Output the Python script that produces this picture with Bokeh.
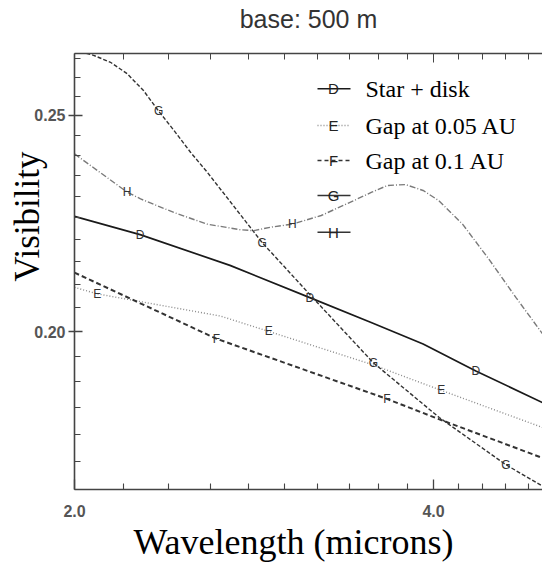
from bokeh.plotting import figure
from bokeh.models import (FixedTicker, PrintfTickFormatter, LogAxis, Title, Label,
                          Arrow, Range1d)
from bokeh.core.properties import value
from bokeh.embed import file_html
from bokeh.resources import INLINE

# ---------------- data ----------------
D_x = [2.00, 2.27, 2.70, 3.15, 3.55, 3.92, 4.34, 4.94]
D_y = [0.2253, 0.2211, 0.2142, 0.2072, 0.2019, 0.1975, 0.1921, 0.1859]

E_x = [2.00, 2.09, 2.65, 2.91, 3.56, 4.06, 4.94]
E_y = [0.2094, 0.2080, 0.2033, 0.2001, 0.1933, 0.1883, 0.1812]

F_x = [2.00, 2.63, 3.66, 4.04, 4.94]
F_y = [0.2126, 0.1986, 0.1866, 0.1828, 0.1756]

G_x = [2.00, 2.043, 2.075, 2.144, 2.214, 2.285, 2.353, 2.423, 2.502, 2.584,
       2.873, 3.154, 3.562, 4.044, 4.599, 4.936]
G_y = [0.2672, 0.2666, 0.2660, 0.2641, 0.2610, 0.2565, 0.2511, 0.2462, 0.2407,
       0.2358, 0.2193, 0.2077, 0.1937, 0.1831, 0.1744, 0.1706]

H_x = [2.00, 2.214, 2.272, 2.423, 2.584, 2.756, 2.827, 2.920, 3.045, 3.22, 3.43,
       3.55, 3.66, 3.79, 3.92, 4.04, 4.23, 4.45, 4.69, 4.94]
H_y = [0.2403, 0.2310, 0.2294, 0.2262, 0.2235, 0.2222, 0.2220, 0.2228, 0.2235,
       0.2255, 0.2290, 0.2310, 0.2326, 0.2328, 0.2314, 0.2290, 0.2235, 0.2156,
       0.2072, 0.1995]

# letter symbols placed on the curves
D_mx = [2.27, 3.15, 4.34]
D_my = [0.2211, 0.2072, 0.1921]
E_mx = [2.09, 2.91, 4.06]
E_my = [0.2080, 0.2001, 0.1883]
F_mx = [2.63, 3.655]
F_my = [0.1986, 0.1866]
G_mx = [2.353, 2.873, 3.562, 4.599]
G_my = [0.2511, 0.2193, 0.1937, 0.1744]
H_mx = [2.214, 3.045]
H_my = [0.2310, 0.2235]

X_MAJOR = [2.0, 4.0]
X_MINOR = [2.2, 2.4, 2.6, 2.8, 3.0, 3.2, 3.4, 3.6, 3.8, 4.2, 4.4, 4.6, 4.8]
Y_MAJOR = [0.20, 0.25]
Y_MINOR = [0.170, 0.175, 0.180, 0.185, 0.190, 0.195, 0.205, 0.210, 0.215,
           0.220, 0.225, 0.230, 0.235, 0.240, 0.245, 0.255, 0.260, 0.265]

LEG_LETTERS = ["D", "E", "F", "G", "H"]
LEG_LABELS = ["Star + disk", "Gap at 0.05 AU", "Gap at 0.1 AU", "", ""]

# ---------------- figure ----------------
p = figure(width=542, height=564, x_axis_type="log", y_axis_type="log",
           x_range=Range1d(2.0, 4.936), y_range=Range1d(0.1700, 0.2665),
           output_backend="svg", toolbar_location=None,
           min_border_left=74, min_border_right=0, min_border_top=53,
           min_border_bottom=75)
p.outline_line_color = None
p.grid.grid_line_color = None
p.background_fill_color = "white"
p.border_fill_color = "white"

p.title.text = "base: 500 m"
p.title.align = "center"
p.title.text_font = "Liberation Sans"
p.title.text_font_size = "25px"
p.title.text_font_style = "normal"
p.title.text_color = "#333333"
p.title.standoff = 2

xt = FixedTicker(ticks=X_MAJOR, minor_ticks=X_MINOR)
yt = FixedTicker(ticks=Y_MAJOR, minor_ticks=Y_MINOR)

ax_col = "#444444"
for ax in (p.xaxis[0], p.yaxis[0]):
    ax.axis_line_color = ax_col
    ax.axis_line_width = 1.6
    ax.major_tick_line_color = ax_col
    ax.major_tick_line_width = 1.3
    ax.minor_tick_line_color = ax_col
    ax.minor_tick_line_width = 1.1
    ax.major_label_text_font = "Liberation Sans"
    ax.major_label_text_font_style = "bold"
    ax.major_label_text_font_size = "16px"
    ax.major_label_text_color = "#555555"

p.xaxis.ticker = xt
p.xaxis.formatter = PrintfTickFormatter(format="%.1f")
p.xaxis.major_tick_in = 10
p.xaxis.major_tick_out = 0
p.xaxis.minor_tick_in = 6
p.xaxis.minor_tick_out = 0
p.xaxis.major_label_standoff = 15

p.yaxis.ticker = yt
p.yaxis.formatter = PrintfTickFormatter(format="%.2f")
p.yaxis.major_tick_in = 8
p.yaxis.major_tick_out = 6
p.yaxis.minor_tick_in = 6
p.yaxis.minor_tick_out = 0
p.yaxis.major_label_standoff = 3

# top frame edge: ticks only; blank labels keep a gap below the title
top = LogAxis(ticker=xt, axis_line_color=ax_col, axis_line_width=1.4,
              major_tick_line_color=ax_col, minor_tick_line_color=ax_col,
              major_tick_in=9, major_tick_out=0, minor_tick_in=6, minor_tick_out=0,
              major_label_text_font_size="16px", major_label_standoff=0,
              major_label_overrides={2.0: " ", 4.0: " "})
p.add_layout(top, "above")

xlab = Title(text="Wavelength (microns)", align="left", offset=59,
             text_font="Liberation Serif", text_font_size="36px",
             text_font_style="normal", text_color="black", standoff=0)
p.add_layout(xlab, "below")

ylab = Title(text="Visibility", align="right", offset=98, vertical_align="bottom",
             text_font="Liberation Serif", text_font_size="35px",
             text_font_style="normal", text_color="black", standoff=-30)
p.add_layout(ylab, "left")

# ---------------- curves ----------------
p.line(D_x, D_y, line_color="#1a1a1a", line_width=1.7)
p.line(E_x, E_y, line_color="#8a8a8a", line_width=1.4, line_dash="1 2")
p.line(F_x, F_y, line_color="#333333", line_width=2.0, line_dash="5 3")
p.line(G_x, G_y, line_color="#333333", line_width=1.4, line_dash="4 2")
p.line(H_x, H_y, line_color="#7a7a7a", line_width=1.4, line_dash="6 2 1 2")

mk = dict(text_font=value("Liberation Sans"), text_font_size="12px",
          text_align="center", text_baseline="middle", text_color="#333333")
p.text(D_mx, D_my, text=["D"] * len(D_mx), **mk)
p.text(E_mx, E_my, text=["E"] * len(E_mx), **mk)
p.text(F_mx, F_my, text=["F"] * len(F_mx), **mk)
p.text(G_mx, G_my, text=["G"] * len(G_mx), **mk)
p.text(H_mx, H_my, text=["H"] * len(H_mx), **mk)

# ---------------- legend (screen units, relative to frame) ----------------
leg_rows = [400.7, 364, 329, 294, 257.3]
leg_dash = ["solid", "1 2", "4 3", "solid", "solid"]
leg_col = ["#1a1a1a", "#8a8a8a", "#333333", "#333333", "#333333"]
for yy, letter, lab, dash, col in zip(leg_rows, LEG_LETTERS, LEG_LABELS, leg_dash, leg_col):
    p.add_layout(Arrow(end=None, x_start=243, y_start=yy, x_end=276, y_end=yy,
                       start_units="screen", end_units="screen",
                       line_color=col, line_width=1.5, line_dash=dash))
    p.add_layout(Label(x=259, y=yy, x_units="screen", y_units="screen", text=letter,
                       text_font="Liberation Sans", text_font_size="15px",
                       text_align="center", text_baseline="middle",
                       text_color="#222222"))
    if lab:
        p.add_layout(Label(x=291, y=yy, x_units="screen", y_units="screen", text=lab,
                           text_font="Liberation Serif", text_font_size="24px",
                           text_align="left", text_baseline="middle",
                           text_color="black"))

open("out.html", "w").write(file_html(p, INLINE))
